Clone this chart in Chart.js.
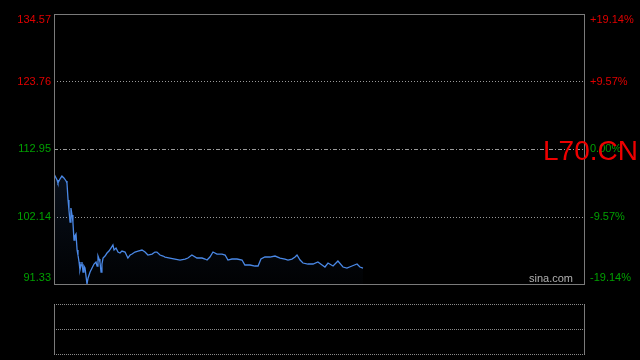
<!DOCTYPE html>
<html>
<head>
<meta charset="utf-8">
<script src="https://cdn.jsdelivr.net/npm/chart.js@4"></script>
<style>
  html, body { margin: 0; padding: 0; background: #000; }
  #wrap { position: relative; width: 640px; height: 360px; }
</style>
</head>
<body>
<div id="wrap"><canvas id="grafico" width="640" height="360"></canvas></div>
<script>
// minutos desde a abertura (0..241) e preço em cada ponto
const minutos = [
  0, 1.4, 1.8, 2.7, 3.6, 4.5, 5.5, 5.9, 6.4, 6.8, 7.3, 7.7, 8.2, 8.6, 9.1, 9.5, 10.0, 10.5, 10.9, 11.4,
  11.8, 12.3, 12.7, 13.2, 13.6, 14.1, 15.0, 15.5, 16.4, 17.3, 18.2, 19.1, 19.6, 20.0, 20.5, 20.9, 21.4, 21.8, 22.3, 23.2,
  24.1, 25.0, 25.9, 26.8, 27.3, 28.2, 29.1, 30.0, 30.9, 32.3, 33.6, 34.6, 35.5, 36.8, 38.2, 40.0, 41.4, 42.7, 44.6, 45.9,
  46.8, 48.2, 49.6, 50.5, 52.7, 55.0, 57.3, 59.6, 60.9, 62.7, 65.0, 67.3, 68.7, 69.6, 70.9, 72.3, 74.1, 76.4, 77.8, 79.1,
  80.9, 83.2, 85.5, 86.8, 89.1, 91.4, 92.8, 94.1, 95.9, 98.2, 100.5, 102.8, 105.0, 106.4, 108.2, 109.6, 110.5, 111.9, 113.2, 115.5,
  117.8, 120.0, 121.9, 123.2, 124.6, 126.9, 129.1, 131.4, 133.2, 135.5, 137.8, 139.1, 140.5
];
const precos = [
  108.95, 107.99, 107.50, 108.14, 108.63, 108.31, 107.83, 107.50, 104.78, 103.18, 101.26, 103.50, 102.38, 101.26, 98.38, 99.02, 99.34, 96.77, 95.97, 94.85,
  93.57, 94.37, 94.85, 93.25, 94.21, 93.89, 91.33, 92.29, 93.25, 93.89, 94.53, 94.85, 94.21, 95.81, 95.33, 94.85, 93.25, 94.53, 95.49, 95.81,
  96.29, 96.61, 97.09, 97.58, 96.77, 97.09, 96.45, 96.29, 96.61, 96.45, 95.49, 95.97, 96.13, 96.45, 96.61, 96.77, 96.45, 95.97, 96.13, 96.45,
  96.45, 95.97, 95.81, 95.65, 95.49, 95.33, 95.17, 95.33, 95.49, 95.97, 95.49, 95.49, 95.33, 95.17, 95.65, 96.45, 96.13, 96.13, 95.97, 95.17,
  95.33, 95.33, 95.17, 94.37, 94.37, 94.21, 94.21, 95.33, 95.65, 95.65, 95.81, 95.49, 95.33, 95.17, 95.33, 95.65, 95.97, 95.17, 94.69, 94.53,
  94.53, 94.85, 94.37, 94.05, 94.69, 94.21, 95.01, 94.05, 93.89, 94.21, 94.53, 94.05, 93.89
];
const precoBase = 112.95;
const precoTicks = [91.33, 102.14, 112.95, 123.76, 134.57];
const pctTicks = ['-19.14%', '-9.57%', '0.00%', '+9.57%', '+19.14%'];
const simbolo = 'L70.CN';
const marca = 'sina.com';

const fonte = '"Liberation Sans", Arial, sans-serif';
const vermelho = '#e00000';
const verde = '#00a000';

function linhaTracejada(ctx, x1, x2, y, dash, cor) {
  ctx.save();
  ctx.strokeStyle = cor;
  ctx.lineWidth = 1;
  ctx.setLineDash(dash);
  ctx.beginPath();
  ctx.moveTo(x1, Math.round(y) + 0.5);
  ctx.lineTo(x2, Math.round(y) + 0.5);
  ctx.stroke();
  ctx.restore();
}

const moldura = {
  id: 'moldura',
  beforeDatasetsDraw(chart) {
    const { ctx, chartArea: ca, scales } = chart;
    precoTicks.forEach(v => {
      if (v === precoTicks[0] || v === precoTicks[precoTicks.length - 1]) return;
      const y = scales.y.getPixelForValue(v);
      const dash = v === precoBase ? [4, 2, 1, 2] : [1, 2];
      linhaTracejada(ctx, ca.left, ca.right, y, dash, '#9a9a9a');
    });
  },
  afterDraw(chart) {
    const { ctx, chartArea: ca, scales } = chart;
    ctx.save();
    // caixa principal
    ctx.strokeStyle = '#7a7a7a';
    ctx.lineWidth = 1;
    ctx.strokeRect(ca.left + 0.5, ca.top + 0.5, ca.right - ca.left, ca.bottom - ca.top);

    // rótulos dos eixos
    ctx.font = '11px ' + fonte;
    ctx.textBaseline = 'middle';
    precoTicks.forEach((v, i) => {
      let y = scales.y.getPixelForValue(v);
      if (i === 0) y -= 6;
      if (i === precoTicks.length - 1) y += 6;
      ctx.fillStyle = v > precoBase ? vermelho : verde;
      ctx.textAlign = 'right';
      ctx.fillText(v.toFixed(2), ca.left - 3, y);
      ctx.textAlign = 'left';
      ctx.fillText(pctTicks[i], ca.right + 6, y);
    });

    // marca d'água
    ctx.fillStyle = '#b0b0b0';
    ctx.textAlign = 'right';
    ctx.fillText(marca, ca.right - 11, ca.bottom - 5);

    // painel de volume (vazio)
    const vTop = 304, vMid = 329, vBot = 354;
    ctx.strokeStyle = '#7a7a7a';
    ctx.beginPath();
    ctx.moveTo(ca.left + 0.5, vTop);
    ctx.lineTo(ca.left + 0.5, vBot + 1);
    ctx.moveTo(ca.right + 0.5, vTop);
    ctx.lineTo(ca.right + 0.5, vBot + 1);
    ctx.stroke();
    linhaTracejada(ctx, ca.left, ca.right + 1, vTop, [1, 1], '#8a8a8a');
    linhaTracejada(ctx, ca.left, ca.right + 1, vMid, [1, 1], '#8a8a8a');
    linhaTracejada(ctx, ca.left, ca.right + 1, vBot, [1, 1], '#8a8a8a');

    // símbolo
    ctx.fillStyle = '#ee0000';
    ctx.font = '28px ' + fonte;
    ctx.textAlign = 'left';
    ctx.textBaseline = 'alphabetic';
    ctx.fillText(simbolo, 543, 160);
    ctx.restore();
  }
};

const ctx = document.getElementById('grafico').getContext('2d');
new Chart(ctx, {
  type: 'line',
  data: {
    datasets: [{
      data: minutos.map((m, i) => ({ x: m, y: precos[i] })),
      borderColor: '#4a88e6',
      borderWidth: 1.3,
      pointRadius: 0,
      tension: 0,
      fill: 'start',
      backgroundColor: c => {
        const ca = c.chart.chartArea;
        if (!ca) return 'rgba(0,0,0,0)';
        const g = c.chart.ctx.createLinearGradient(0, ca.top, 0, ca.bottom);
        g.addColorStop(0, 'rgba(60,110,190,0.32)');
        g.addColorStop(1, 'rgba(60,110,190,0.02)');
        return g;
      }
    }]
  },
  options: {
    responsive: false,
    animation: false,
    layout: { padding: { left: 54, right: 56, top: 14, bottom: 76 } },
    plugins: { legend: { display: false }, tooltip: { enabled: false } },
    scales: {
      x: { type: 'linear', min: 0, max: 241, display: false },
      y: { min: precoTicks[0], max: precoTicks[precoTicks.length - 1], display: false }
    }
  },
  plugins: [moldura]
});
</script>
</body>
</html>
